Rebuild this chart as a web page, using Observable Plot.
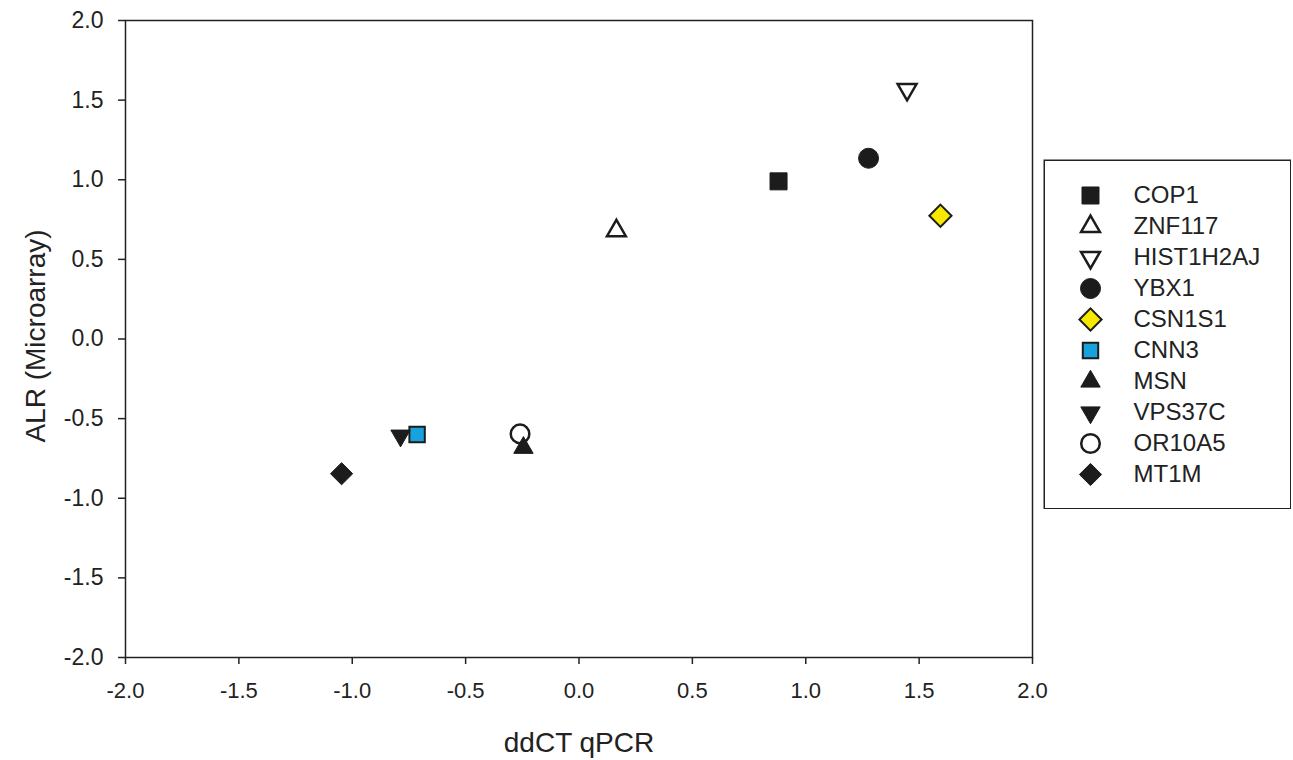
<!DOCTYPE html>
<html><head><meta charset="utf-8">
<script src="https://cdn.jsdelivr.net/npm/d3@7"></script>
<script src="https://cdn.jsdelivr.net/npm/@observablehq/plot@0.6"></script>
<style>
body{margin:0;background:#fff;}
#wrap{position:relative;width:1293px;height:760px;overflow:hidden;}
#chart{position:absolute;left:0;top:0;}
#legend{position:absolute;left:1043px;top:159px;}
</style>
</head><body>
<div id="wrap"><div id="chart"></div><div id="legend"></div></div>
<script>
// ---- data ----
const genes = ["COP1","ZNF117","HIST1H2AJ","YBX1","CSN1S1","CNN3","MSN","VPS37C","OR10A5","MT1M"];
const qpcr = [0.88, 0.165, 1.447, 1.277, 1.594, -0.714, -0.245, -0.787, -0.26, -1.047];
const microarray = [0.99, 0.68, 1.567, 1.135, 0.774, -0.60, -0.683, -0.607, -0.596, -0.846];
const xTicks = [-2, -1.5, -1, -0.5, 0, 0.5, 1, 1.5, 2];
const yTicks = [-2, -1.5, -1, -0.5, 0, 0.5, 1, 1.5, 2];
const xTitle = "ddCT qPCR";
const yTitle = "ALR (Microarray)";

// ---- styles ----
const DARK = "#1c1c1c";
const symbols = ["square","triangle","triangle","circle","diamond2","square","triangle","triangle","circle","diamond2"];
const rotations = [0,0,180,0,0,0,0,180,0,0];
const fills = [DARK,"#ffffff","#ffffff",DARK,"#f7e800","#17a2dc",DARK,DARK,"#ffffff",DARK];
const strokeWidths = [1,2.5,2.5,1,2,2,1,1,2.5,1];
const radii = [9.6,7,7,10,10,8.7,7.2,7.2,9.3,10];
const drawOrder = [0,1,2,3,4,7,5,6,8,9];

const FONT = "'Liberation Sans', Arial, sans-serif";
const fmt = d => d.toFixed(1);

const dotOpts = {
  symbol: i => symbols[i],
  r: i => radii[i],
  fill: i => fills[i],
  stroke: DARK,
  strokeWidth: i => strokeWidths[i],
  rotate: i => rotations[i]
};

const chart = Plot.plot({
  width: 1293, height: 760,
  marginLeft: 125, marginRight: 261, marginTop: 20, marginBottom: 103,
  x: {domain: [-2, 2]},
  y: {domain: [-2, 2]},
  r: {type: "identity"},
  style: {fontFamily: FONT, fontSize: "23px", color: "#222", background: "white"},
  marks: [
    Plot.axisX({ticks: xTicks, tickFormat: fmt, tickSize: 7, tickPadding: 18, strokeWidth: 1.5, label: null, fontSize: 22}),
    Plot.axisY({ticks: yTicks, tickFormat: fmt, tickSize: 7, tickPadding: 15, strokeWidth: 1.5, label: null, fontSize: 23}),
    Plot.frame({stroke: "#222", strokeWidth: 1.5}),
    Plot.dot(drawOrder, {x: i => qpcr[i], y: i => microarray[i], ...dotOpts}),
    Plot.text([xTitle], {text: d => d, frameAnchor: "bottom", dy: 86, lineAnchor: "middle", textAnchor: "middle", fontSize: 28, fill: "#222"}),
    Plot.text([yTitle], {text: d => d, frameAnchor: "left", dx: -89, dy: -3, rotate: -90, lineAnchor: "middle", textAnchor: "middle", fontSize: 28, fill: "#222"})
  ]
});
document.getElementById("chart").appendChild(chart);

const idx = genes.map((g, i) => i);
const legend = Plot.plot({
  width: 248, height: 350, margin: 0,
  y: {type: "point", domain: genes, range: [34, 316], padding: 0, axis: null},
  r: {type: "identity"},
  style: {fontFamily: FONT, fontSize: "24px", color: "#222", background: "white"},
  marks: [
    Plot.frame({stroke: "#222", strokeWidth: 1.5, inset: 0.75}),
    Plot.dot(idx, {y: i => genes[i], frameAnchor: "left", dx: 47, ...dotOpts}),
    Plot.text(genes, {y: d => d, text: d => d, frameAnchor: "left", dx: 90, textAnchor: "start", fontSize: 24, fill: "#222"})
  ]
});
document.getElementById("legend").appendChild(legend);
</script>
</body></html>
